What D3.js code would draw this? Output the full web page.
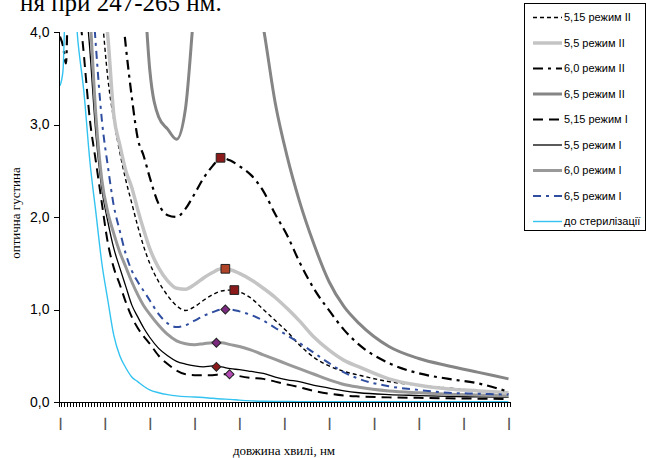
<!DOCTYPE html>
<head>
  <meta charset="utf-8">
  <script src="https://d3js.org/d3.v7.min.js"></script>
  <style>
    body {
      margin: 0;
      background: #fff;
      font-family: "Liberation Sans", Arial, sans-serif;
    }
    #chart {
      position: absolute;
      left: 0px;
      top: 0px;
    }
    .axis path, .axis line {
      stroke: #000;
      shape-rendering: crispEdges;
    }
    .axis text {
      font-family: "Liberation Sans", Arial, sans-serif;
      font-size: 14px;
      fill: #000;
    }
    .bars {
      opacity: 0.99;
    }
    .bars text {
      font-size: 12px;
      fill: #444;
      stroke: #444;
      stroke-width: 0.4;
    }
    .serif {
      font-family: "Liberation Serif", "Times New Roman", serif;
    }
  </style>
</head>

<body>
  <div id="chart"></div>

  <script>
    // wavelength, nm
    var wavelengths = [200, 201, 202, 204, 206, 208, 210, 212, 214, 216, 218, 220, 222, 224, 226, 228, 230,
                       233, 236, 239, 242, 245, 248, 251, 254, 257, 260, 264, 268, 272, 276, 280,
                       285, 290, 295, 300, 310, 320, 330, 340, 350];

    // optical density (values above 4 run off the top of the plot)
    var ph515mode2 = [7.5, 7.4, 7.3, 7.0, 6.6, 6.1, 5.5, 4.9, 4.2, 3.5, 3.05, 2.7, 2.4, 2.15, 1.9, 1.68, 1.5,
                      1.3, 1.15, 1.04, 0.99, 1.03, 1.1, 1.16, 1.2, 1.21, 1.19, 1.12, 1.0, 0.88, 0.76, 0.62,
                      0.48, 0.39, 0.33, 0.29, 0.22, 0.18, 0.15, 0.12, 0.09];
    var ph55mode2 = [7.6, 7.5, 7.4, 7.1, 6.7, 6.2, 5.6, 5.0, 4.5, 3.95, 3.1, 2.78, 2.5, 2.32, 2.08, 1.86, 1.66,
                     1.45, 1.31, 1.23, 1.22, 1.27, 1.34, 1.4, 1.44, 1.43, 1.39, 1.32, 1.23, 1.13, 1.01, 0.88,
                     0.7, 0.56, 0.45, 0.38, 0.25, 0.18, 0.14, 0.12, 0.1];
    var ph60mode2 = [3.95, 3.85, 3.66, 7.5, 7.6, 7.4, 7.0, 6.5, 6.0, 5.5, 5.0, 4.5, 3.85, 3.3, 2.85, 2.66, 2.43,
                     2.14, 2.02, 2.0, 2.09, 2.25, 2.42, 2.55, 2.64, 2.61, 2.55, 2.45, 2.28, 2.03, 1.8, 1.52,
                     1.22, 0.99, 0.78, 0.62, 0.42, 0.31, 0.25, 0.2, 0.11];
    var ph65mode2 = [9, 9, 9, 9, 9, 8.8, 8.5, 8.2, 7.8, 7.4, 7.0, 6.5, 6.0, 5.5, 5.0, 4.5, 3.6,
                     3.08, 2.95, 2.84, 3.18, 4.3, 5.2, 5.6, 5.8, 5.7, 5.3, 4.7, 4.05, 3.23, 2.65, 2.18,
                     1.7, 1.3, 1.03, 0.85, 0.6, 0.47, 0.39, 0.32, 0.25];
    var ph515mode1 = [7.0, 6.9, 6.7, 6.0, 4.5, 3.75, 3.05, 2.6, 2.15, 1.72, 1.45, 1.27, 1.08, 0.92, 0.8, 0.71, 0.63,
                      0.5, 0.41, 0.34, 0.3, 0.29, 0.29, 0.29, 0.3, 0.3, 0.28, 0.26, 0.25, 0.22, 0.19, 0.16,
                      0.12, 0.09, 0.07, 0.06, 0.05, 0.045, 0.04, 0.036, 0.032];
    var ph55mode1 = [7.2, 7.1, 7.0, 6.5, 5.8, 4.6, 3.8, 2.9, 2.3, 1.95, 1.66, 1.45, 1.25, 1.05, 0.92, 0.8, 0.7,
                     0.58, 0.5, 0.44, 0.41, 0.39, 0.38, 0.39, 0.38, 0.36, 0.35, 0.33, 0.31, 0.27, 0.24, 0.22,
                     0.18, 0.15, 0.12, 0.1, 0.08, 0.07, 0.06, 0.055, 0.05];
    var ph60mode1 = [7.2, 7.1, 7.0, 6.6, 5.9, 5.0, 4.2, 3.1, 2.4, 2.05, 1.82, 1.62, 1.46, 1.3, 1.16, 1.04, 0.95,
                     0.83, 0.73, 0.66, 0.63, 0.62, 0.63, 0.64, 0.64, 0.62, 0.6, 0.56, 0.51, 0.46, 0.41, 0.36,
                     0.3, 0.24, 0.19, 0.16, 0.12, 0.1, 0.085, 0.075, 0.065];
    var ph65mode1 = [7.4, 7.3, 7.2, 6.9, 6.4, 5.7, 4.8, 3.85, 3.05, 2.55, 2.12, 1.85, 1.6, 1.42, 1.3, 1.2, 1.1,
                     0.95, 0.85, 0.81, 0.83, 0.88, 0.93, 0.97, 1.0, 1.0, 0.98, 0.94, 0.88, 0.8, 0.72, 0.64,
                     0.53, 0.42, 0.32, 0.25, 0.17, 0.13, 0.1, 0.09, 0.08];
    var beforeSteril = [3.42, 3.58, 4.5, 4.7, 3.9, 3.35, 2.6, 2.05, 1.5, 1.1, 0.72, 0.5, 0.37, 0.27, 0.22, 0.17, 0.13,
                        0.1, 0.08, 0.066, 0.058, 0.054, 0.048, 0.04, 0.033, 0.028, 0.02, 0.012, 0.008, 0.006, 0.005, 0.004,
                        0.004, 0.003, 0.003, 0.003, 0.002, 0.002, 0.002, 0.002, 0.002];

    var seriesNames = ["5,15 режим II", "5,5 режим II", "6,0 режим II", "6,5 режим II",
                       "5,15 режим I", "5,5 режим I", "6,0 режим I", "6,5 режим I", "до стерилізації"];
    var seriesValues = [ph515mode2, ph55mode2, ph60mode2, ph65mode2,
                        ph515mode1, ph55mode1, ph60mode1, ph65mode1, beforeSteril];

    // peak markers
    var peakSeries = [2, 1, 0, 7, 6, 5, 4];
    var peakWavelength = [253.7, 255.3, 258.3, 255.3, 252.3, 252.3, 256.7];
    var peakValue = [2.64, 1.44, 1.21, 1.0, 0.64, 0.38, 0.30];

    var yTicks = [0, 1, 2, 3, 4];
    var xLabelValues = [200, 215, 230, 245, 260, 275, 290, 305, 320, 335, 350];
    var xLabels = ["|", "|", "|", "|", "|", "|", "|", "|", "|", "|", "|"];

    // line styles per series
    var styles = [
      {color: "#000", width: 1.4, dash: "4,3"},
      {color: "#c4c4c4", width: 3.5, dash: null},
      {color: "#000", width: 2.2, dash: "10,5,3,5"},
      {color: "#858585", width: 3, dash: null},
      {color: "#000", width: 2, dash: "10,6"},
      {color: "#000", width: 1.3, dash: null},
      {color: "#999", width: 3, dash: null},
      {color: "#2f4ea0", width: 2, dash: "8,5,3,5"},
      {color: "#33c3f0", width: 1.4, dash: null}
    ];
    var markerShape = ["square", "square", "square", "diamond", "diamond", "diamond", "diamond"];
    var markerFill = ["#8b1a1a", "#b04428", "#8b1a1a", "#7b2a80", "#7b2a80", "#8b1a1a", "#b44ab4"];

    var width = 646, height = 458;
    var svg = d3.select("#chart").append("svg")
      .attr("width", width)
      .attr("height", height);

    var x = d3.scaleLinear().domain([199.5, 350.5]).range([58.5, 510]);
    var y = d3.scaleLinear().domain([0, 4]).range([402, 32]);

    // cut-off caption line above the chart
    svg.append("text")
      .attr("class", "serif")
      .attr("x", 20)
      .attr("y", 11)
      .style("font-size", "25px")
      .text("ня при 247-265 нм.");

    svg.append("clipPath").attr("id", "plot")
      .append("rect")
      .attr("x", 58.5).attr("y", 32)
      .attr("width", 452).attr("height", 370);

    var line = d3.line()
      .x(function(d) { return x(d[0]); })
      .y(function(d) { return y(d[1]); })
      .curve(d3.curveMonotoneX);

    var lines = svg.append("g").attr("clip-path", "url(#plot)");
    seriesValues.forEach(function(vals, i) {
      var pts = wavelengths.map(function(w, j) { return [w, vals[j]]; });
      lines.append("path")
        .attr("d", line(pts))
        .attr("fill", "none")
        .attr("stroke", styles[i].color)
        .attr("stroke-width", styles[i].width)
        .attr("stroke-dasharray", styles[i].dash)
        .attr("stroke-linejoin", "round");
    });

    // markers: squares for mode II, diamonds (rotated squares) for mode I
    peakSeries.forEach(function(s, i) {
      var isSquare = markerShape[i] == "square";
      svg.append("path")
        .attr("d", d3.symbol().type(d3.symbolSquare).size(isSquare ? 76 : 40)())
        .attr("transform", "translate(" + x(peakWavelength[i]) + "," + y(peakValue[i]) + ")" +
              (isSquare ? "" : " rotate(45)"))
        .attr("fill", markerFill[i])
        .attr("stroke", "#222")
        .attr("stroke-width", 1);
    });

    // axes
    svg.append("g")
      .attr("class", "axis")
      .attr("transform", "translate(58.5,0)")
      .call(d3.axisLeft(y).tickValues(yTicks).tickSize(5).tickPadding(4)
        .tickFormat(function(d) { return d3.format(".1f")(d).replace(".", ","); }));

    var minor = d3.range(199.5, 351, 1);
    svg.append("g")
      .attr("class", "axis")
      .attr("transform", "translate(0,402)")
      .call(d3.axisBottom(x).tickValues(minor).tickSize(5).tickSizeOuter(0).tickFormat(""));

    var bars = svg.append("g")
      .attr("class", "axis bars")
      .attr("transform", "translate(0,418)")
      .call(d3.axisBottom(x).tickValues(xLabelValues).tickSize(0).tickPadding(0)
        .tickFormat(function(d, i) { return xLabels[i]; }));
    bars.select(".domain").remove();

    svg.append("text")
      .attr("class", "serif")
      .attr("x", 284)
      .attr("y", 455)
      .attr("text-anchor", "middle")
      .style("font-size", "13px")
      .text("довжина хвилі, нм");

    svg.append("text")
      .attr("class", "serif")
      .attr("transform", "translate(20,213) rotate(-90)")
      .attr("text-anchor", "middle")
      .style("font-size", "13px")
      .text("оптична густина");

    // legend
    var legend = svg.append("g");
    legend.append("rect")
      .attr("x", 524.5).attr("y", 3.5)
      .attr("width", 121).attr("height", 227)
      .attr("fill", "#fff").attr("stroke", "#000");
    seriesNames.forEach(function(name, i) {
      var ly = 17.5 + i * 25.5;
      legend.append("line")
        .attr("x1", 533).attr("x2", 562)
        .attr("y1", ly).attr("y2", ly)
        .attr("stroke", styles[i].color)
        .attr("stroke-width", styles[i].width)
        .attr("stroke-dasharray", styles[i].dash);
      legend.append("text")
        .attr("x", 564).attr("y", ly)
        .attr("dy", "0.35em")
        .style("font-size", "11px")
        .text(name);
    });
  </script>
</body>
